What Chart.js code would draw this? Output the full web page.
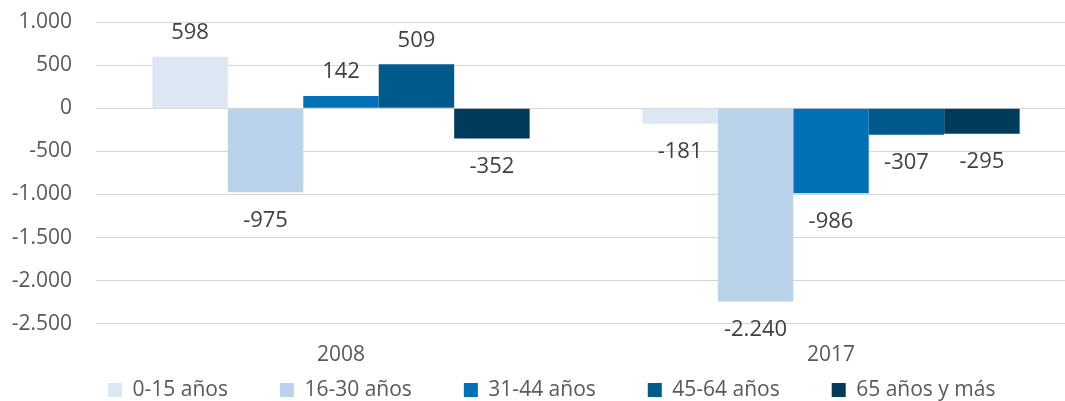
<!DOCTYPE html>
<html>
<head>
<meta charset="utf-8">
<script src="https://cdn.jsdelivr.net/npm/chart.js@4.4.1/dist/chart.umd.min.js"></script>
<style>
html,body{margin:0;padding:0;background:#fff;overflow:hidden;width:1065px;height:401px;}
#wrap{position:relative;width:1076px;height:401px;}
</style>
</head>
<body>
<div id="wrap"><canvas id="c"></canvas></div>
<script>
const categories = ['2008', '2017'];
const seriesNames = ['0-15 años', '16-30 años', '31-44 años', '45-64 años', '65 años y más'];
const s0_15 = [598, -181];
const s16_30 = [-975, -2240];
const s31_44 = [142, -986];
const s45_64 = [509, -307];
const s65 = [-352, -295];
const seriesValues = [s0_15, s16_30, s31_44, s45_64, s65];
const seriesColors = ['#DCE7F3', '#BAD3EA', '#0071B6', '#005A8C', '#003B5C'];
const yMin = -2500, yMax = 1000, yStep = 500;

function fmt(v) {
  const s = Math.abs(v).toString().replace(/\B(?=(\d{3})+(?!\d))/g, '.');
  return (v < 0 ? '-' : '') + s;
}

const FONT = "'Open Sans', sans-serif";

const dataLabels = {
  id: 'dataLabels',
  afterDatasetsDraw(chart) {
    const ctx = chart.ctx;
    ctx.save();
    ctx.font = "22px " + FONT;
    ctx.fillStyle = '#404040';
    ctx.textAlign = 'center';
    ctx.textBaseline = 'middle';
    chart.data.datasets.forEach((ds, i) => {
      const meta = chart.getDatasetMeta(i);
      meta.data.forEach((bar, j) => {
        const v = ds.data[j];
        const y = v >= 0 ? bar.y - 24 : bar.y + 28;
        ctx.fillText(fmt(v), bar.x, y);
      });
    });
    ctx.restore();
  }
};

const legendPlace = {
  id: 'legendPlace',
  afterUpdate(chart) {
    const l = chart.legend;
    if (!l) return;
    const pad = l.options.labels.padding;
    const fs = 21;
    l.left = 108 - pad;
    l.right = 1076;
    l.top = 390 - pad - fs / 2;
  }
};

function draw() {
  new Chart(document.getElementById('c'), {
    type: 'bar',
    data: {
      labels: categories,
      datasets: seriesNames.map((n, i) => ({
        label: n,
        data: seriesValues[i],
        backgroundColor: seriesColors[i],
        borderWidth: 0,
        categoryPercentage: 0.77,
        barPercentage: 1.0
      }))
    },
    options: {
      responsive: true,
      maintainAspectRatio: false,
      animation: false,
      layout: { padding: { left: 11, top: 22, right: 0, bottom: 0 } },
      plugins: {
        tooltip: { enabled: false },
        legend: {
          position: 'bottom',
          align: 'start',
          maxHeight: 14,
          labels: {
            boxWidth: 14,
            boxHeight: 14,
            padding: 52,
            color: '#595959',
            font: { family: FONT, size: 21 }
          }
        }
      },
      scales: {
        x: {
          grid: { display: false, drawTicks: false },
          border: { display: false },
          ticks: { color: '#595959', font: { family: FONT, size: 21 }, padding: 19 }
        },
        y: {
          min: yMin,
          max: yMax,
          grid: { color: '#D6D6D6', lineWidth: 1, drawTicks: false },
          border: { display: false },
          afterFit(scale) {
            scale.width = 85;
            scale.paddingTop = 0;
            scale.paddingBottom = 0;
          },
          ticks: {
            stepSize: yStep,
            color: '#595959',
            font: { family: FONT, size: 21 },
            padding: 24,
            callback: (v) => fmt(v)
          }
        }
      }
    },
    plugins: [dataLabels, legendPlace]
  });
}

Promise.all([
  document.fonts.load("21px 'Open Sans'"),
  document.fonts.load("22px 'Open Sans'")
]).then(draw, draw);
</script>
</body>
</html>
